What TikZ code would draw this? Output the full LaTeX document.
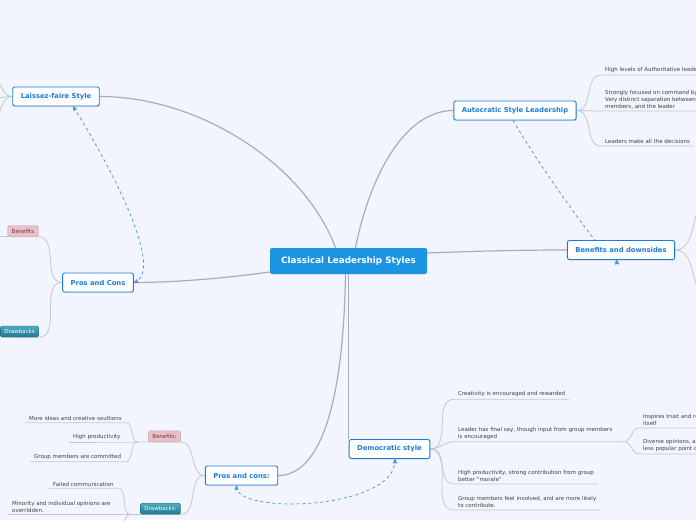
\documentclass[tikz,border=0pt]{standalone}
\usepackage{fontspec}
\setmainfont{DejaVu Sans}
\usetikzlibrary{arrows,shadows}
\pgfdeclarelayer{back}
\pgfdeclarelayer{links}
\pgfsetlayers{back,links,main}
\definecolor{paper}{RGB}{242,245,253}
\definecolor{rootblue}{RGB}{27,149,226}
\definecolor{topicblue}{RGB}{28,124,222}
\definecolor{linegray}{RGB}{198,198,206}
\definecolor{maingray}{RGB}{172,172,180}
\definecolor{relblue}{RGB}{64,144,232}
\definecolor{subtext}{RGB}{64,64,64}
\definecolor{pinkfill}{RGB}{230,194,200}
\definecolor{pinktext}{RGB}{130,44,64}
\definecolor{tealfill}{RGB}{36,150,180}

\begin{document}
\begin{tikzpicture}[x=1pt,y=-1pt,
  rootbox/.style={fill=rootblue,text=white,rounded corners=2pt,minimum width=157pt,minimum height=26pt,font=\fontsize{8.8}{10}\selectfont\bfseries},
  topicbox/.style={draw=topicblue,line width=0.9pt,fill=white,rounded corners=2pt,text=topicblue,minimum height=19pt,inner xsep=8pt,font=\fontsize{6.8}{8}\selectfont\bfseries,drop shadow={shadow xshift=0.4pt,shadow yshift=-1pt,opacity=.25}},
  subnote/.style={anchor=south west,align=left,text=subtext,inner xsep=4pt,inner ysep=2pt,font=\fontsize{5.5}{7}\selectfont},
  tagbox/.style={rounded corners=1.5pt,minimum height=11pt,inner xsep=4pt,inner ysep=0pt,font=\fontsize{5.5}{7}\selectfont},
  prostag/.style={tagbox,fill=pinkfill,draw=pinkfill!85!black,text=pinktext},
  constag/.style={tagbox,top color=tealfill!80!white,bottom color=tealfill!80!black,draw=tealfill!70!black,text=white},
  branchline/.style={draw=linegray,line width=0.8pt},
  mainline/.style={draw=maingray,line width=1.2pt},
  relline/.style={draw=relblue,dashed,line width=0.7pt,>=stealth'}]
\useasboundingbox (0,0) rectangle (696,520);
\begin{pgfonlayer}{back}
\fill[paper] (0,0) rectangle (696,520);
\end{pgfonlayer}

\node[rootbox] (root) at (348.5,261) {Classical Leadership Styles};
\node[topicbox] (lf) at (56,96.5) {Laissez-faire Style};
\node[topicbox] (aut) at (515,110.5) {Autocratic Style Leadership};
\node[topicbox] (bd) at (621,250) {Benefits and downsides};
\node[topicbox] (pc1) at (98,282.5) {Pros and Cons};
\node[topicbox] (pc2) at (241.5,475.5) {Pros and cons:};
\node[topicbox] (dem) at (389.5,449) {Democratic style};

\node[subnote] (a1) at (601,75) {High levels of Authoritative leadership};
\node[subnote] (a2) at (601,111) {Strongly focused on command by the leader\\Very distinct separation between the group\\members, and the leader};
\node[subnote] (a3) at (601,146) {Leaders make all the decisions};

\node[subnote] (d1) at (454,399.3) {Creativity is encouraged and rewarded};
\node[subnote] (d2) at (454,441.7) {Leader has final say, though input from group members\\is encouraged};
\node[subnote] (d3) at (454,484) {High productivity, strong contribution from group\\better "morale"};
\node[subnote] (d4) at (454,510) {Group members feel involved, and are more likely\\to contribute.};
\node[subnote] (e1) at (639,428) {Inspires trust and respect for the leader and the group\\itself};
\node[subnote] (e2) at (639,454) {Diverse opinions, and even the\\less popular point of view, are heard};

\node[prostag] (bt) at (164.5,436.3) {Benefits:};
\node[constag] (dt) at (160.5,508.7) {Drawbacks:};
\node[subnote] (b1) at (25,422.7) {More ideas and creative soultions};
\node[subnote] (b2) at (69,442) {High productivity};
\node[subnote] (b3) at (30,461.7) {Group members are committed};
\node[subnote] (c1) at (49,488.3) {Failed communication};
\node[subnote] (c2) at (8,514.5) {Minority and individual opinions are\\overridden.};

\node[prostag] (bft) at (23,231) {Benefits};
\node[constag] (dft) at (19.5,331.5) {Drawbacks};

\coordinate (d2j) at (624,441.7);
\coordinate (bj) at (138,442);
\coordinate (dj) at (131,514.5);
\coordinate (c3) at (118,548);
\coordinate (lf1) at (-12,72);
\coordinate (lf2) at (-12,99);
\coordinate (lf3) at (-12,124);
\coordinate (bd1) at (712,200);
\coordinate (bd2) at (712,300);
\coordinate (bfl) at (-10,236.5);
\coordinate (dfl) at (-10,337);

\begin{pgfonlayer}{links}
\draw[mainline] ([xshift=-13pt]root.north) .. controls (305,165) and (200,96.5) .. (lf.east);
\draw[mainline] ([xshift=7pt]root.north) .. controls (370,175) and (405,110.5) .. (aut.west);
\draw[mainline] ([yshift=-11pt]root.west) .. controls (220,279) and (170,282.5) .. (pc1.east);
\draw[mainline] ([yshift=8pt]root.east) .. controls (480,251) and (520,250) .. (bd.west);
\draw[mainline] (root.south) -- (root.south |- dem.north);
\draw[mainline] ([xshift=-3pt]root.south) .. controls (343,420) and (315,475.5) .. (pc2.east);

\draw[branchline] (aut.east) to[out=0,in=180] (a1.south west) -- (a1.south east);
\draw[branchline] (aut.east) to[out=0,in=180] (a2.south west) -- (a2.south east);
\draw[branchline] (aut.east) to[out=0,in=180] (a3.south west) -- (a3.south east);
\draw[branchline] (dem.east) to[out=0,in=180] (d1.south west) -- (d1.south east);
\draw[branchline] (dem.east) to[out=0,in=180] (d2.south west) -- (d2j);
\draw[branchline] (dem.east) to[out=0,in=180] (d3.south west) -- (d3.south east);
\draw[branchline] (dem.east) to[out=0,in=180] (d4.south west) -- (d4.south east);
\draw[branchline] (d2j) to[out=0,in=180] (e1.south west) -- (e1.south east);
\draw[branchline] (d2j) to[out=0,in=180] (e2.south west) -- (e2.south east);

\draw[branchline] (pc2.west) to[out=180,in=0] (bt.south east) -- (bj);
\draw[branchline] (bj) to[out=180,in=0] (b1.south east) -- (b1.south west);
\draw[branchline] (bj) -- (b2.south east) -- (b2.south west);
\draw[branchline] (bj) to[out=180,in=0] (b3.south east) -- (b3.south west);
\draw[branchline] (pc2.west) to[out=180,in=0] (dt.south east) -- (dj);
\draw[branchline] (dj) to[out=180,in=0] (c1.south east) -- (c1.south west);
\draw[branchline] (dj) -- (c2.south west);
\draw[branchline] (dj) to[out=180,in=0] (c3);

\draw[branchline] (lf.west) to[out=180,in=0] (lf1);
\draw[branchline] (lf.west) to[out=180,in=0] (lf2);
\draw[branchline] (lf.west) to[out=180,in=0] (lf3);
\draw[branchline] (bd.east) to[out=0,in=180] (bd1);
\draw[branchline] (bd.east) to[out=0,in=180] (bd2);
\draw[branchline] (pc1.west) to[out=180,in=0] (bft.south east) -- (bfl);
\draw[branchline] (pc1.west) to[out=180,in=0] (dft.south east) -- (dfl);

\draw[relline,<->] ([xshift=17pt]lf.south) .. controls (110,165) and (165,270) .. (pc1.east);
\draw[relline,->] ([xshift=-2pt]aut.south) .. controls (545,175) and (617,275) .. ([xshift=-4pt]bd.south);
\draw[relline,<->] ([xshift=-5pt]pc2.south) .. controls (236,515) and (395,510) .. ([xshift=5.5pt]dem.south);
\end{pgfonlayer}
\end{tikzpicture}
\end{document}
